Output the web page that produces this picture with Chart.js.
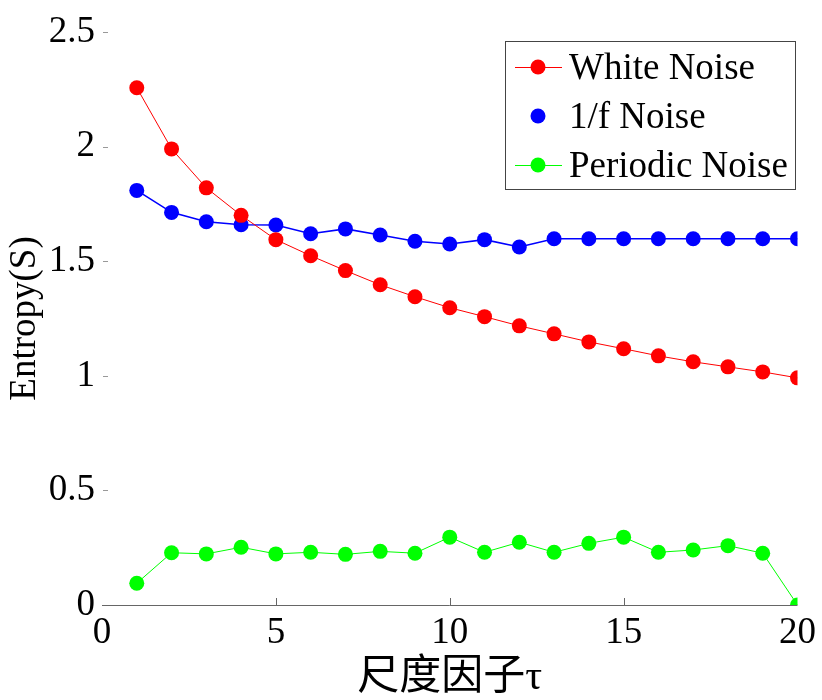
<!DOCTYPE html>
<html>
<head>
<meta charset="utf-8">
<script src="https://cdn.jsdelivr.net/npm/chart.js@4.4.1/dist/chart.umd.min.js"></script>
<style>
  html, body { margin: 0; padding: 0; background: #fff; }
  #wrap { width: 822px; height: 700px; }
</style>
</head>
<body>
<div id="wrap"><canvas id="chart" width="822" height="700"></canvas></div>
<script>
// data
const scales = [1, 2, 3, 4, 5, 6, 7, 8, 9, 10, 11, 12, 13, 14, 15, 16, 17, 18, 19, 20];
const whiteNoise = [2.257, 1.99, 1.82, 1.70, 1.594, 1.524, 1.459, 1.397, 1.345, 1.297,
                    1.258, 1.218, 1.183, 1.148, 1.118, 1.087, 1.061, 1.039, 1.017, 0.991];
const pinkNoise = [1.809, 1.713, 1.672, 1.659, 1.658, 1.620, 1.641, 1.614, 1.587, 1.575,
                   1.594, 1.562, 1.598, 1.598, 1.598, 1.598, 1.598, 1.598, 1.598, 1.598];
const periodicNoise = [0.095, 0.228, 0.223, 0.252, 0.223, 0.230, 0.221, 0.234, 0.226, 0.296,
                       0.230, 0.274, 0.230, 0.269, 0.296, 0.230, 0.240, 0.259, 0.226, 0.0];
const seriesNames = ['White Noise', '1/f Noise', 'Periodic Noise'];
const xTicks = [0, 5, 10, 15, 20];
const yTicks = [0, 0.5, 1, 1.5, 2, 2.5];

const serif = '"Liberation Serif", Tinos, "Times New Roman", "DejaVu Serif", serif';

function pts(vals) {
  return scales.map((s, i) => ({ x: s, y: vals[i] }));
}

// ticks drawn inside the plot, MATLAB style
const insideTicks = {
  id: 'insideTicks',
  afterDraw(chart) {
    const ctx = chart.ctx;
    const xs = chart.scales.x, ys = chart.scales.y;
    ctx.save();
    ctx.strokeStyle = '#666';
    ctx.lineWidth = 1;
    // x axis line
    ctx.beginPath();
    ctx.moveTo(xs.left, ys.bottom + 0.5);
    ctx.lineTo(xs.right, ys.bottom + 0.5);
    ctx.stroke();
    xTicks.slice(1, -1).forEach(v => {
      const px = Math.round(xs.getPixelForValue(v)) + 0.5;
      ctx.beginPath();
      ctx.moveTo(px, ys.bottom);
      ctx.lineTo(px, ys.bottom - 7);
      ctx.stroke();
    });
    ctx.strokeStyle = '#999';
    yTicks.slice(1).forEach(v => {
      const py = Math.round(ys.getPixelForValue(v)) + 0.5;
      ctx.beginPath();
      ctx.moveTo(xs.left + 1, py);
      ctx.lineTo(xs.left + 6, py);
      ctx.stroke();
    });
    ctx.restore();
  }
};

// boxed legend with line + marker samples
const boxLegend = {
  id: 'boxLegend',
  afterDraw(chart) {
    const ctx = chart.ctx;
    const left = 505, top = 41, w = 290, h = 148;
    ctx.save();
    ctx.fillStyle = '#fff';
    ctx.fillRect(left, top, w, h);
    ctx.strokeStyle = '#444';
    ctx.lineWidth = 1;
    ctx.strokeRect(left + 0.5, top + 0.5, w, h);
    ctx.font = '37px ' + serif;
    ctx.textBaseline = 'middle';
    chart.data.datasets.forEach((ds, i) => {
      const cy = 67 + i * 49;
      if (ds.legendLine) {
        ctx.strokeStyle = ds.borderColor;
        ctx.lineWidth = 1;
        ctx.beginPath();
        ctx.moveTo(515, cy + 0.5);
        ctx.lineTo(562, cy + 0.5);
        ctx.stroke();
      }
      ctx.fillStyle = ds.pointBackgroundColor;
      ctx.beginPath();
      ctx.arc(538, cy, 7.5, 0, Math.PI * 2);
      ctx.fill();
      ctx.fillStyle = '#000';
      ctx.fillText(ds.label, 569, cy + 2);
    });
    ctx.restore();
  }
};

function series(label, vals, color, width, legendLine) {
  return {
    label: label,
    data: pts(vals),
    borderColor: color,
    backgroundColor: color,
    pointBackgroundColor: color,
    pointBorderColor: color,
    borderWidth: width,
    pointRadius: 7.5,
    pointBorderWidth: 0,
    tension: 0,
    legendLine: legendLine
  };
}

new Chart(document.getElementById('chart'), {
  type: 'line',
  data: {
    datasets: [
      series(seriesNames[0], whiteNoise, '#ff0000', 1, true),
      series(seriesNames[1], pinkNoise, '#0000ff', 1.6, false),
      series(seriesNames[2], periodicNoise, '#00ff00', 1, true)
    ]
  },
  options: {
    responsive: false,
    animation: false,
    layout: { padding: { top: 32, right: 20, left: 0, bottom: 0 } },
    plugins: { legend: { display: false }, tooltip: { enabled: false } },
    scales: {
      x: {
        type: 'linear',
        min: 0, max: 20,
        afterBuildTicks: s => { s.ticks = xTicks.map(v => ({ value: v })); },
        afterFit: s => { s.height = 95; },
        grid: { display: false, drawTicks: false },
        border: { display: false },
        ticks: { color: '#000', font: { family: serif, size: 37 }, padding: 6, maxRotation: 0,
                 callback: v => String(v) },
        title: {
          display: true,
          text: '尺度因子τ',
          color: '#000',
          font: { family: '"Liberation Serif", Tinos, "Noto Sans CJK TC", serif', size: 42, lineHeight: 1 },
          padding: { top: 0, bottom: 1 }
        }
      },
      y: {
        min: 0, max: 2.5,
        afterBuildTicks: s => { s.ticks = yTicks.map(v => ({ value: v })); },
        afterFit: s => { s.width = 102; },
        grid: { display: false, drawTicks: false },
        border: { display: false },
        ticks: { color: '#000', font: { family: serif, size: 37 }, padding: 7,
                 callback: v => String(v) },
        title: {
          display: true,
          text: 'Entropy(S)',
          color: '#000',
          font: { family: serif, size: 37, lineHeight: 1.2 },
          padding: { top: 3, bottom: 0 }
        }
      }
    }
  },
  plugins: [insideTicks, boxLegend]
});
</script>
</body>
</html>
